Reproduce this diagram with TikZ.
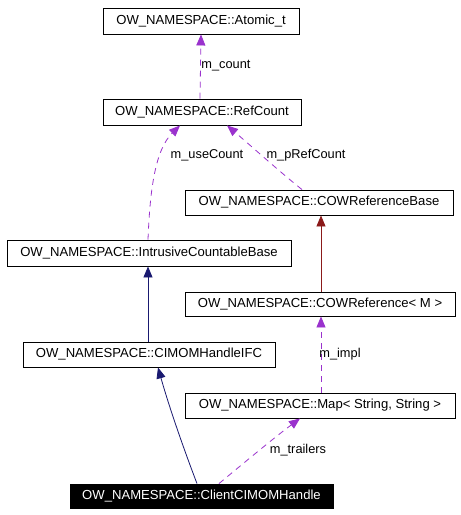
\documentclass[tikz,border=0pt]{standalone}
\usepackage{fontspec}
\setmainfont{Liberation Sans}
\usetikzlibrary{arrows.meta}
\definecolor{usecol}{HTML}{9A32CD}
\definecolor{inhcol}{HTML}{191970}
\definecolor{tplcol}{HTML}{8B1A1A}
\tikzset{
  cls/.style={draw=black, line width=0.9pt, fill=white, inner sep=0pt, font=\fontsize{13.1}{15}\selectfont, text=black},
  clsmain/.style={cls, fill=black, text=white},
  lbl/.style={inner sep=0pt, font=\fontsize{12.8}{15}\selectfont},
  useedge/.style={draw=usecol, line width=0.8pt, dash pattern=on 6pt off 5pt, -{Triangle[length=11pt,width=9pt,fill=usecol]}},
  inhedge/.style={draw=inhcol, line width=0.8pt, -{Triangle[length=11pt,width=9pt,fill=inhcol]}},
  tpledge/.style={draw=tplcol, line width=0.8pt, -{Triangle[length=11pt,width=9pt,fill=tplcol]}}
}
\begin{document}
\begin{tikzpicture}[x=1pt,y=-1pt]
\useasboundingbox[fill=white] (0,0) rectangle (461,515);
\node[cls, minimum width=196pt, minimum height=26pt] (atomic) at (201,21) {OW\_NAMESPACE::Atomic\_t};
\node[cls, minimum width=198pt, minimum height=26pt] (ref) at (202,112) {OW\_NAMESPACE::RefCount};
\node[cls, minimum width=284pt, minimum height=26pt] (intr) at (149,253) {OW\_NAMESPACE::IntrusiveCountableBase};
\node[cls, minimum width=268pt, minimum height=25pt] (cowb) at (319,202.5) {OW\_NAMESPACE::COWReferenceBase};
\node[cls, minimum width=270pt, minimum height=24pt] (cowr) at (320,304) {OW\_NAMESPACE::COWReference< M >};
\node[cls, minimum width=252pt, minimum height=25pt] (ifc) at (149,354.5) {OW\_NAMESPACE::CIMOMHandleIFC};
\node[cls, minimum width=270pt, minimum height=25pt] (map) at (320,405.5) {OW\_NAMESPACE::Map< String, String >};
\node[clsmain, minimum width=263pt, minimum height=24pt] (client) at (201.5,496) {OW\_NAMESPACE::ClientCIMOMHandle};

\draw[useedge] ([xshift=-2pt]ref.north) -- ([xshift=0pt]atomic.south);
\node[lbl] (lcount) at (226,66) {m\_count};

\draw[useedge] ([xshift=-1pt]intr.north) .. controls (150,190) and (155,150) .. ([xshift=-22pt]ref.south);
\node[lbl] (luse) at (207,155) {m\_useCount};

\draw[useedge] ([xshift=-17pt]cowb.north) .. controls (280,172) and (250,145) .. ([xshift=25pt]ref.south);
\node[lbl] (lpref) at (306,155) {m\_pRefCount};

\draw[tpledge] ([xshift=1pt]cowr.north) -- ([xshift=2pt]cowb.south);
\draw[inhedge] ([xshift=-1pt]ifc.north) -- ([xshift=-1pt]intr.south);

\draw[useedge] ([xshift=1pt]map.north) -- ([xshift=1pt]cowr.south);
\node[lbl] (limpl) at (340,354) {m\_impl};

\draw[inhedge] ([xshift=-4.5pt]client.north) .. controls (186,455) and (170,410) .. ([xshift=9pt]ifc.south);
\draw[useedge] ([xshift=17.5pt]client.north) .. controls (245,462) and (275,437) .. ([xshift=-20pt]map.south);
\node[lbl] (ltrail) at (298,450) {m\_trailers};
\end{tikzpicture}
\end{document}
